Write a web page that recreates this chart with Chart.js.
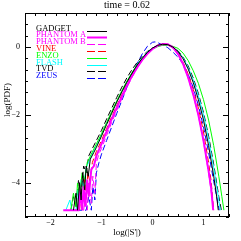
<!DOCTYPE html>
<html><head><meta charset="utf-8">
<script src="https://cdn.jsdelivr.net/npm/chart.js@4/dist/chart.umd.min.js"></script>
<style>html,body{margin:0;padding:0;background:#fff}canvas{display:block}</style>
</head><body>
<canvas id="c" width="241" height="241"></canvas>
<script>
const titleText = 'time = 0.62';
const xTitle = "log(|S'|)";
const yTitle = 'log(PDF)';
const xTicks = [-2, -1, 0, 1];
const yTicks = [-4, -2, 0];
const seriesNames = ['GADGET', 'PHANTOM A', 'PHANTOM B', 'VINE', 'ENZO', 'FLASH', 'TVD', 'ZEUS'];

const gadget = [[-1.55,-4.8],[-1.5,-4.3],[-1.47,-4.8],[-1.43,-4.0],[-1.4,-4.5],[-1.37,-3.7],[-1.33,-4.2],[-1.3,-3.5],[-1.26,-3.8],[-1.22,-3.3],[-1.15,-3.1],[-1.1,-2.95],[-1.0,-2.62],[-0.9,-2.28],[-0.8,-1.95],[-0.7,-1.62],[-0.6,-1.32],[-0.5,-1.03],[-0.4,-0.77],[-0.3,-0.53],[-0.2,-0.33],[-0.1,-0.16],[0,-0.03],[0.1,0.05],[0.2,0.08],[0.3,0.07],[0.4,0.0],[0.5,-0.13],[0.6,-0.35],[0.7,-0.65],[0.8,-1.05],[0.9,-1.55],[1.0,-2.15],[1.1,-2.9],[1.2,-3.8],[1.25,-4.3],[1.29,-4.8]];
const phantomA = [[-1.75,-4.8],[-1.45,-4.8],[-1.42,-4.3],[-1.38,-4.8],[-1.35,-4.1],[-1.32,-4.7],[-1.28,-3.9],[-1.25,-4.4],[-1.2,-3.6],[-1.15,-3.5],[-1.1,-3.2],[-1.0,-2.85],[-0.9,-2.48],[-0.8,-2.12],[-0.7,-1.78],[-0.6,-1.45],[-0.5,-1.13],[-0.4,-0.85],[-0.3,-0.6],[-0.2,-0.38],[-0.1,-0.2],[0,-0.06],[0.1,0.04],[0.2,0.09],[0.3,0.08],[0.4,-0.01],[0.5,-0.2],[0.6,-0.5],[0.7,-0.9],[0.8,-1.4],[0.9,-2.0],[1.0,-2.75],[1.1,-3.65],[1.15,-4.15],[1.19,-4.8]];
const phantomB = [[-1.55,-4.8],[-1.35,-4.8],[-1.32,-4.4],[-1.28,-4.8],[-1.25,-4.0],[-1.2,-4.6],[-1.17,-3.8],[-1.13,-4.3],[-1.1,-3.4],[-1.05,-3.15],[-1.0,-2.98],[-0.9,-2.6],[-0.8,-2.22],[-0.7,-1.86],[-0.6,-1.52],[-0.5,-1.19],[-0.4,-0.89],[-0.3,-0.62],[-0.2,-0.39],[-0.1,-0.2],[0,-0.06],[0.1,0.04],[0.2,0.09],[0.3,0.07],[0.4,-0.03],[0.5,-0.22],[0.6,-0.52],[0.7,-0.92],[0.8,-1.42],[0.9,-2.02],[1.0,-2.78],[1.1,-3.7],[1.15,-4.25],[1.2,-4.8]];
const vine = [[-1.43,-4.8],[-1.4,-4.2],[-1.37,-4.6],[-1.33,-3.9],[-1.3,-4.5],[-1.27,-3.7],[-1.22,-4.0],[-1.18,-3.4],[-1.1,-3.07],[-1.0,-2.75],[-0.9,-2.4],[-0.8,-2.05],[-0.7,-1.72],[-0.6,-1.4],[-0.5,-1.1],[-0.4,-0.82],[-0.3,-0.57],[-0.2,-0.35],[-0.1,-0.18],[0,-0.04],[0.1,0.05],[0.2,0.09],[0.3,0.08],[0.4,0.0],[0.5,-0.17],[0.6,-0.45],[0.7,-0.8],[0.8,-1.25],[0.9,-1.8],[1.0,-2.5],[1.1,-3.4],[1.15,-3.95],[1.2,-4.8]];
const enzo = [[-1.6,-4.8],[-1.55,-4.3],[-1.5,-4.7],[-1.47,-4.0],[-1.43,-4.4],[-1.38,-3.7],[-1.33,-3.9],[-1.28,-3.4],[-1.2,-3.15],[-1.1,-2.85],[-1.0,-2.55],[-0.9,-2.22],[-0.8,-1.9],[-0.7,-1.58],[-0.6,-1.28],[-0.5,-1.0],[-0.4,-0.75],[-0.3,-0.52],[-0.2,-0.33],[-0.1,-0.18],[0,-0.06],[0.1,0.01],[0.2,0.05],[0.3,0.05],[0.4,0.02],[0.5,-0.04],[0.6,-0.18],[0.7,-0.4],[0.8,-0.7],[0.9,-1.07],[1.0,-1.55],[1.1,-2.15],[1.2,-2.9],[1.3,-3.8],[1.36,-4.4],[1.4,-4.8]];
const flash = [[-1.7,-4.8],[-1.62,-4.5],[-1.58,-4.8],[-1.5,-4.8],[-1.47,-4.2],[-1.43,-4.6],[-1.4,-3.9],[-1.35,-4.1],[-1.3,-3.55],[-1.2,-3.2],[-1.1,-2.9],[-1.0,-2.58],[-0.9,-2.25],[-0.8,-1.92],[-0.7,-1.6],[-0.6,-1.3],[-0.5,-1.01],[-0.4,-0.75],[-0.3,-0.51],[-0.2,-0.31],[-0.1,-0.15],[0,-0.03],[0.1,0.05],[0.2,0.08],[0.3,0.06],[0.4,-0.01],[0.5,-0.13],[0.6,-0.32],[0.7,-0.6],[0.8,-0.97],[0.9,-1.43],[1.0,-2.0],[1.1,-2.7],[1.2,-3.55],[1.28,-4.3],[1.33,-4.8]];
const tvd = [[-1.6,-4.8],[-1.55,-4.4],[-1.5,-4.7],[-1.45,-3.9],[-1.4,-4.3],[-1.35,-3.5],[-1.3,-3.7],[-1.25,-3.2],[-1.2,-3.05],[-1.1,-2.75],[-1.0,-2.45],[-0.9,-2.12],[-0.8,-1.8],[-0.7,-1.48],[-0.6,-1.18],[-0.5,-0.9],[-0.4,-0.66],[-0.3,-0.45],[-0.2,-0.27],[-0.1,-0.13],[0,-0.03],[0.1,0.04],[0.2,0.07],[0.3,0.06],[0.4,0.0],[0.5,-0.11],[0.6,-0.3],[0.7,-0.56],[0.8,-0.92],[0.9,-1.37],[1.0,-1.93],[1.1,-2.62],[1.2,-3.45],[1.3,-4.4],[1.35,-4.8]];
const zeus = [[-1.5,-4.8],[-1.3,-4.8],[-1.25,-4.4],[-1.2,-4.8],[-1.17,-4.1],[-1.13,-4.5],[-1.1,-3.7],[-1.05,-3.4],[-1.0,-3.15],[-0.9,-2.75],[-0.8,-2.35],[-0.7,-1.95],[-0.6,-1.57],[-0.5,-1.18],[-0.4,-0.82],[-0.3,-0.48],[-0.2,-0.2],[-0.1,0.02],[0,0.14],[0.05,0.15],[0.1,0.13],[0.2,0.06],[0.3,-0.02],[0.4,-0.15],[0.5,-0.3],[0.6,-0.5],[0.7,-0.8],[0.8,-1.2],[0.9,-1.72],[1.0,-2.35],[1.1,-3.1],[1.2,-3.95],[1.27,-4.5],[1.31,-4.8]];

const seriesData = [gadget, phantomA, phantomB, vine, enzo, flash, tvd, zeus];
const seriesColors = ['#000000', '#ff00ff', '#ff00ff', '#ff0000', '#00ff00', '#00ffff', '#000000', '#0000ff'];
const seriesDash = [[], [], [6, 3], [6, 3], [], [], [6, 3], [6, 3]];
const seriesWidth = [1, 2, 1, 1, 1, 1, 1, 1];

const FONT = '"Liberation Serif", "DejaVu Serif", serif';

const datasets = seriesNames.map((name, i) => ({
  label: name,
  data: seriesData[i].map(p => ({x: p[0], y: p[1]})),
  showLine: true,
  borderColor: seriesColors[i],
  backgroundColor: seriesColors[i],
  borderWidth: seriesWidth[i],
  borderDash: seriesDash[i],
  pointRadius: 0,
  fill: false,
  tension: 0
}));

const decor = {
  id: 'decor',
  afterDraw(chart) {
    const ctx = chart.ctx;
    const a = chart.chartArea;
    const xs = chart.scales.x, ys = chart.scales.y;
    ctx.save();
    ctx.strokeStyle = '#000';
    ctx.lineWidth = 1;
    ctx.setLineDash([]);
    ctx.strokeRect(Math.round(a.left) + 0.5, Math.round(a.top) + 0.5, Math.round(a.right - a.left) - 1, Math.round(a.bottom - a.top) - 1);
    ctx.beginPath();
    for (let k = 0; k <= 20; k++) {
      const v = xs.min + k * 0.2;
      const major = xTicks.some(t => Math.abs(t - v) < 1e-6);
      const L = major ? 6 : 3;
      const px = Math.round(xs.getPixelForValue(v)) + 0.5;
      ctx.moveTo(px, a.bottom); ctx.lineTo(px, a.bottom - L);
      ctx.moveTo(px, a.top); ctx.lineTo(px, a.top + L);
    }
    for (let k = 0; k <= 18; k++) {
      const v = ys.min + k / 3;
      const major = yTicks.some(t => Math.abs(t - v) < 1e-6);
      const L = major ? 6 : 3;
      const py = Math.round(ys.getPixelForValue(v)) + 0.5;
      ctx.moveTo(a.left, py); ctx.lineTo(a.left + L, py);
      ctx.moveTo(a.right, py); ctx.lineTo(a.right - L, py);
    }
    ctx.stroke();
    ctx.fillStyle = '#000';
    ctx.font = '10px ' + FONT;
    ctx.textAlign = 'center';
    ctx.textBaseline = 'middle';
    ctx.fillText(titleText, (a.left + a.right) / 2, 5);
    ctx.font = '9px ' + FONT;
    ctx.save();
    ctx.translate(7.5, 100);
    ctx.rotate(-Math.PI / 2);
    ctx.fillText(yTitle, 0, 0);
    ctx.restore();
    ctx.textAlign = 'left';
    ctx.textBaseline = 'alphabetic';
    ctx.font = '8.5px ' + FONT;
    chart.data.datasets.forEach((ds, i) => {
      const y = 30.5 + i * 6.8;
      ctx.fillStyle = ds.borderColor;
      ctx.fillText(ds.label, 36, y);
      ctx.strokeStyle = ds.borderColor;
      ctx.lineWidth = ds.borderWidth;
      ctx.setLineDash(ds.borderDash && ds.borderDash.length ? [8, 3] : []);
      ctx.beginPath();
      ctx.moveTo(87, Math.round(y) + 0.5);
      ctx.lineTo(107, Math.round(y) + 0.5);
      ctx.stroke();
    });
    ctx.restore();
  }
};

new Chart(document.getElementById('c'), {
  type: 'scatter',
  data: {datasets},
  options: {
    responsive: false,
    animation: false,
    devicePixelRatio: 1,
    layout: {padding: {left: 0, top: 13, right: 12, bottom: 0}},
    plugins: {legend: {display: false}, title: {display: false}, tooltip: {enabled: false}},
    scales: {
      x: {
        type: 'linear', min: -2.5, max: 1.5,
        afterBuildTicks: s => { s.ticks = xTicks.map(v => ({value: v})); },
        afterFit: s => { s.height = 24; },
        grid: {display: false, drawTicks: false},
        border: {display: false},
        ticks: {padding: 1, color: '#000', font: {family: FONT, size: 8}, maxRotation: 0,
          callback: v => (v < 0 ? '\u2212' : '') + Math.abs(v)},
        title: {display: true, text: xTitle, color: '#000', font: {family: FONT, size: 9}, padding: {top: 0, bottom: 3}}
      },
      y: {
        type: 'linear', min: -5, max: 1,
        afterBuildTicks: s => { s.ticks = yTicks.map(v => ({value: v})); },
        afterFit: s => { s.width = 25; },
        grid: {display: false, drawTicks: false},
        border: {display: false},
        ticks: {padding: 5, color: '#000', font: {family: FONT, size: 8},
          callback: v => (v < 0 ? '\u2212' : '') + Math.abs(v)}
      }
    }
  },
  plugins: [decor]
});
</script>
</body></html>
